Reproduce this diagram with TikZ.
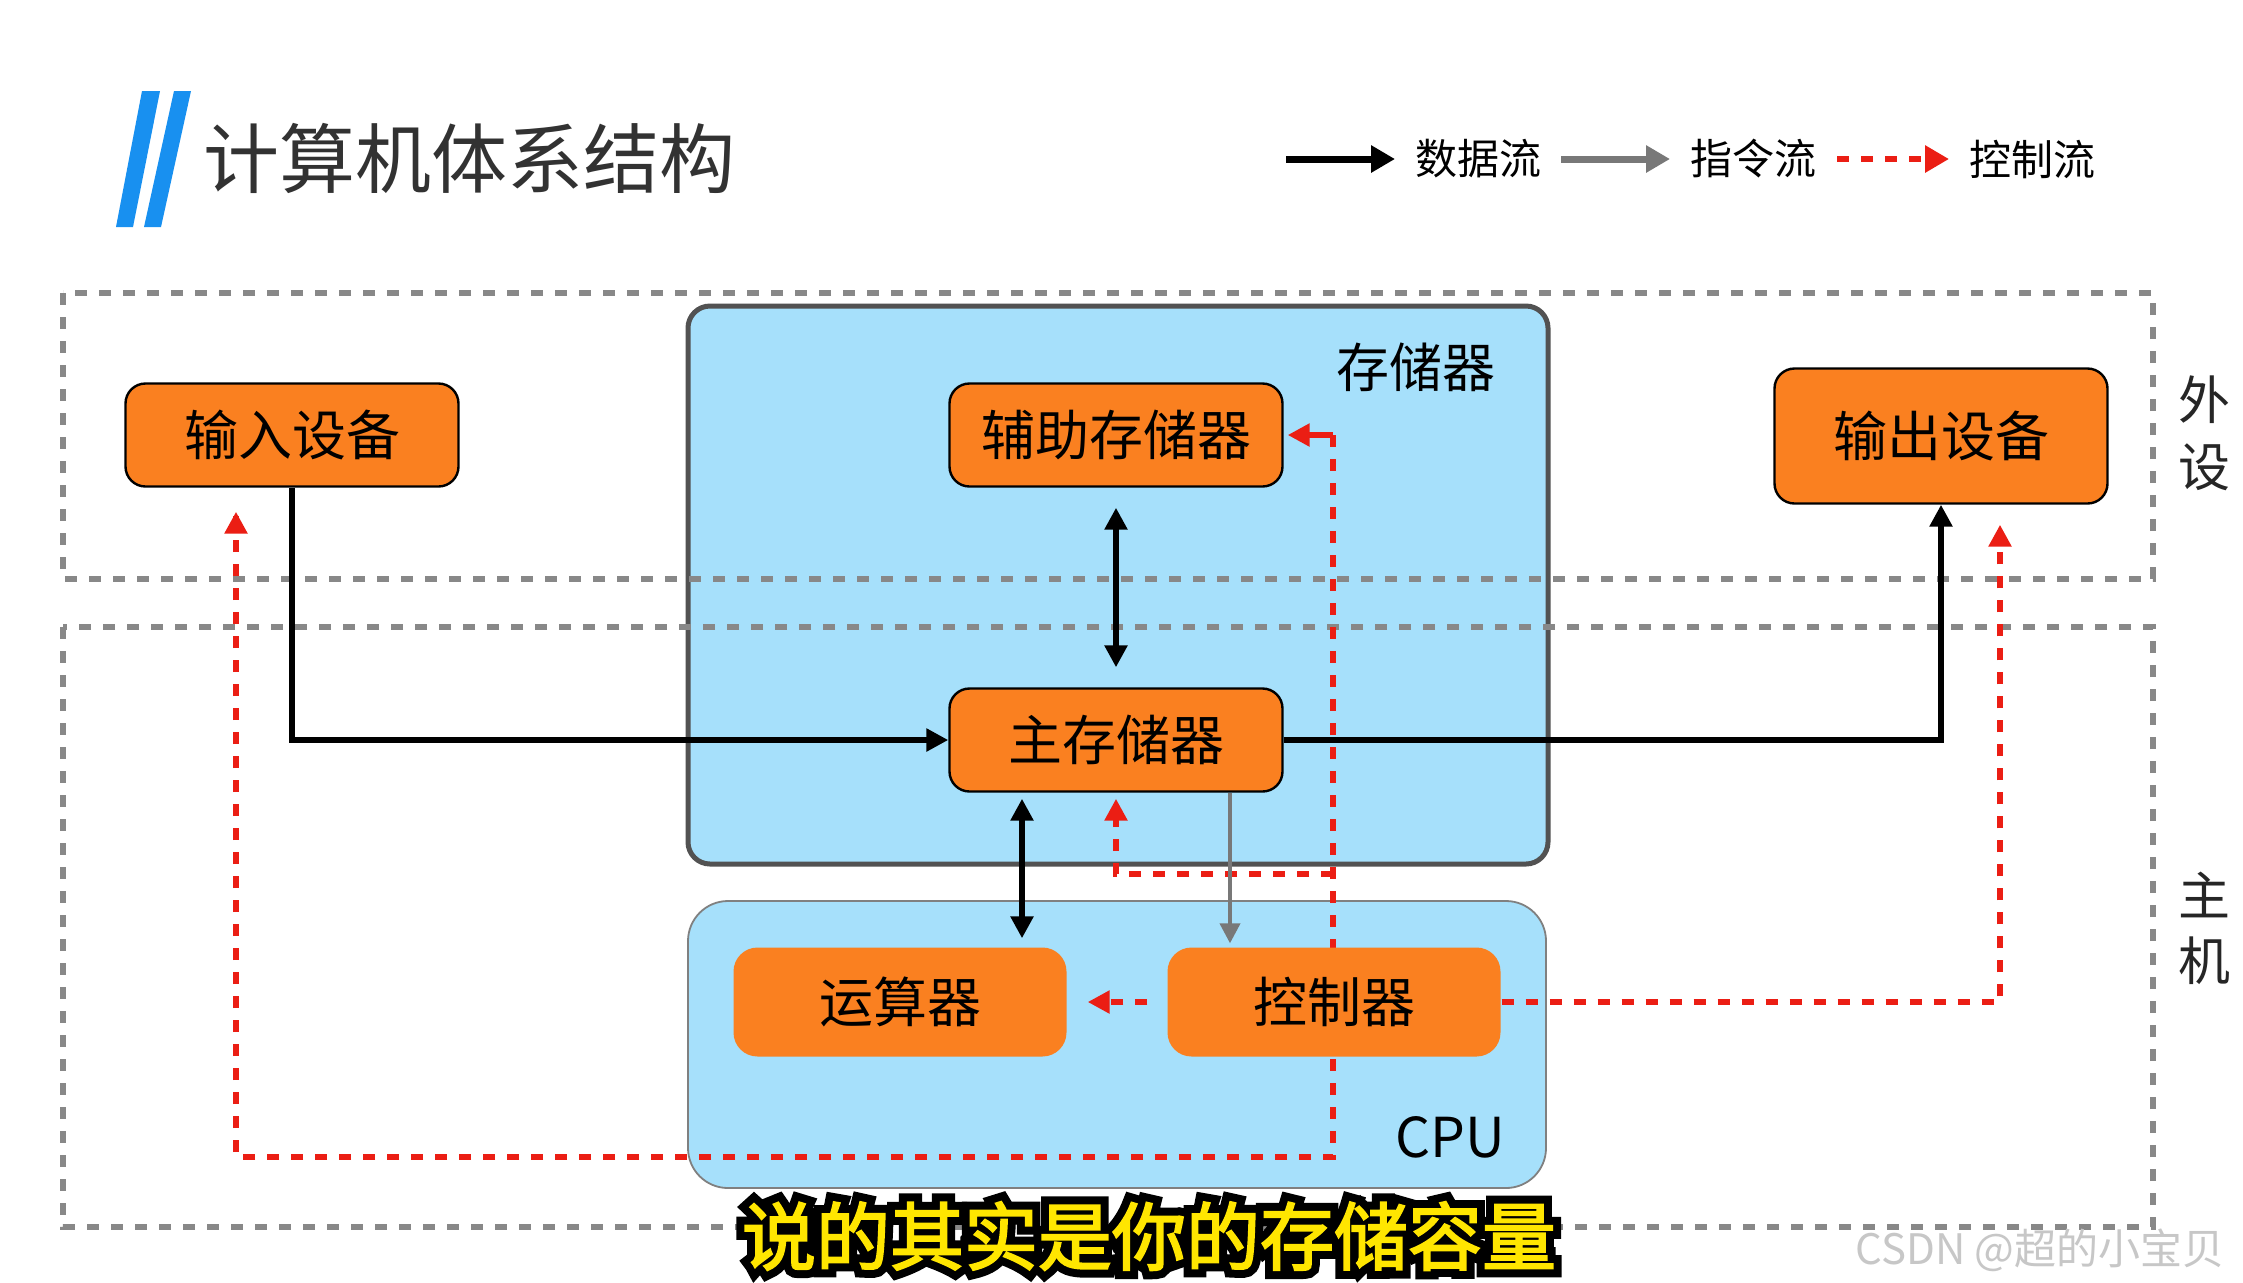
\documentclass[tikz,border=0pt]{standalone}
\usepackage{fontspec}
\setmainfont{Noto Sans CJK SC}
\newfontfamily\subout{Noto Sans CJK SC}[FakeBold=24]
\newfontfamily\subin{Noto Sans CJK SC}[FakeBold=2.5]
\usetikzlibrary{arrows.meta}
\definecolor{orangebox}{RGB}{250,128,32}
\definecolor{skyblue}{RGB}{166,224,251}
\definecolor{ctrlred}{RGB}{235,30,20}
\definecolor{dashgray}{RGB}{136,136,136}
\definecolor{titleblue}{RGB}{24,144,240}
\definecolor{subyellow}{RGB}{255,230,0}
\definecolor{instgray}{RGB}{120,120,120}
\definecolor{titletext}{RGB}{50,50,50}
\tikzset{
  fs/.style={font=\fontsize{#1}{#1}\selectfont},
  obox/.style={rounded corners=10pt, fill=orangebox, draw=black, line width=1.2pt,
    minimum width=166.5pt, minimum height=51.5pt, inner sep=0pt, fs=27},
  cbox/.style={obox, draw=none, minimum height=54.5pt, rounded corners=12pt},
  data/.style={draw=black, line width=3pt},
  datatip/.style={-{Triangle[length=11pt,width=11pt]}},
  datatips/.style={{Triangle[length=11pt,width=11pt]}-{Triangle[length=11pt,width=11pt]}},
  inst/.style={draw=instgray, line width=2pt, -{Triangle[length=10pt,width=10pt]}},
  ctrl/.style={draw=ctrlred, line width=3.2pt, dash pattern=on 6pt off 6pt},
  ctrltip/.style={-{Triangle[length=11pt,width=11pt]}, ctrlred},
  region/.style={draw=dashgray, line width=3pt, dash pattern=on 6pt off 6pt},
  lbl/.style={inner sep=0pt, text=black},
}
\begin{document}
\begin{tikzpicture}[x=0.5pt,y=-0.5pt]
\useasboundingbox (0,0) rectangle (2243,1282);
\fill[white] (0,0) rectangle (2243,1282);

% title
\fill[titleblue] (142,91) -- (160,91) -- (133,227) -- (116,227) -- cycle;
\fill[titleblue] (174,91) -- (191,91) -- (161,227) -- (144,227) -- cycle;
\node[lbl, anchor=west, text=titletext, fs=38] (title) at (203,158) {计算机体系结构};

% legend
\coordinate (l1a) at (1286,159); \coordinate (l1b) at (1395,159);
\draw[data, line width=3.5pt, -{Triangle[length=12pt,width=13pt]}] (l1a) -- (l1b);
\node[lbl, fs=21] (leg1) at (1478,159) {数据流};
\coordinate (l2a) at (1561,159); \coordinate (l2b) at (1670,159);
\draw[draw=instgray, line width=3.5pt, -{Triangle[length=12pt,width=13pt]}, instgray] (l2a) -- (l2b);
\node[lbl, fs=21] (leg2) at (1753,159) {指令流};
\coordinate (l3a) at (1837,159); \coordinate (l3b) at (1949,159);
\draw[ctrl, ctrlred, -{Triangle[length=12pt,width=13pt]}] (l3a) -- (l3b);
\node[lbl, fs=21] (leg3) at (2032,159) {控制流};

% containers
\draw[fill=skyblue, draw=black!68, line width=2.5pt, rounded corners=11pt] (688,306) rectangle (1548,864);
\node[lbl, fs=26.5] (memlbl) at (1416,367) {存储器};
\draw[fill=skyblue, draw=black!50, line width=0.9pt, rounded corners=20pt] (688,901) rectangle (1546,1188);
\node[lbl, fs=27.5] (cpulbl) at (1450,1137) {CPU};

% dashed regions
\draw[region] (63,293) rectangle (2153,579);
\draw[region] (63,627) rectangle (2153,1227);
\node[lbl, align=center, text=black!85, font=\fontsize{26}{33.5}\selectfont] (waishe) at (2204,433) {外\\设};
\node[lbl, align=center, text=black!85, font=\fontsize{26}{32.5}\selectfont] (zhuji) at (2204,928) {主\\机};

% nodes
\node[obox] (in) at (292,435) {输入设备};
\node[obox] (aux) at (1116,435) {辅助存储器};
\node[obox, minimum height=67.5pt] (out) at (1941,436) {输出设备};
\node[obox] (main) at (1116,740) {主存储器};

% control flow lines (behind CPU boxes)
\coordinate (ct) at (1333,435);
\coordinate (cb) at (1333,1157);
\coordinate (lb) at (236,1157);
\coordinate (cm) at (1333,874);
\coordinate (ro) at (2000,1002);
\draw[ctrl] (ct) -- (cb) -- (lb) -- ([yshift=-12pt]lb |- in.south);
\draw[ctrl] (cm) -- (cm -| main.south) -- ([yshift=-8pt]main.south);

\node[cbox] (alu) at (900,1002) {运算器};
\node[cbox] (cu) at (1334,1002) {控制器};

\draw[ctrl] (cu.east) -- (ro) -- ([yshift=-16pt]ro |- out.south);
\draw[ctrl, shorten <=9.5pt] (cu.west) -- ([xshift=14pt]alu.east);

% control arrow tips
\draw[ctrlred, line width=3pt, ctrltip, shorten >=2pt] (ct) -- (aux.east);
\draw[ctrlred, line width=3pt, ctrltip, shorten >=12pt] ([yshift=-14pt]lb |- in.south) -- (lb |- in.south);
\draw[ctrlred, line width=3pt, ctrltip, shorten >=3pt] ([yshift=-10pt]main.south) -- (main.south);
\draw[ctrlred, line width=3pt, ctrltip, shorten >=10pt] ([yshift=-18pt]ro |- out.south) -- (ro |- out.south);
\draw[ctrlred, line width=3pt, ctrltip, shorten >=10pt] ([xshift=16pt]alu.east) -- (alu.east);

% data flow
\draw[data, datatip] (in.south) -- (in.south |- main.west) -- (main.west);
\draw[data, datatip] (main.east) -- (main.east -| out.south) -- (out.south);
\draw[data, datatips, shorten <=10pt, shorten >=10pt] (aux.south) -- (main.north);
\draw[data, datatips, shorten <=3pt, shorten >=4pt] ([xshift=-47pt]main.south) -- ([xshift=-47pt]main.south |- alu.north);

% instruction flow
\draw[inst, shorten >=1.5pt] ([xshift=57pt]main.south) -- ([xshift=57pt]main.south |- cu.north);

% subtitle
\node[lbl, text=black, font=\subout\fontsize{37}{37}\selectfont] (subo) at (1149,1236) {说的其实是你的存储容量};
\node[lbl, text=subyellow, font=\subin\fontsize{37}{37}\selectfont] (sub) at (1149,1236) {说的其实是你的存储容量};

% watermark
\node[lbl, text=black!22, font=\fontsize{21}{21}\selectfont] (wm) at (2040,1250) {CSDN @超的小宝贝};
\end{tikzpicture}
\end{document}
